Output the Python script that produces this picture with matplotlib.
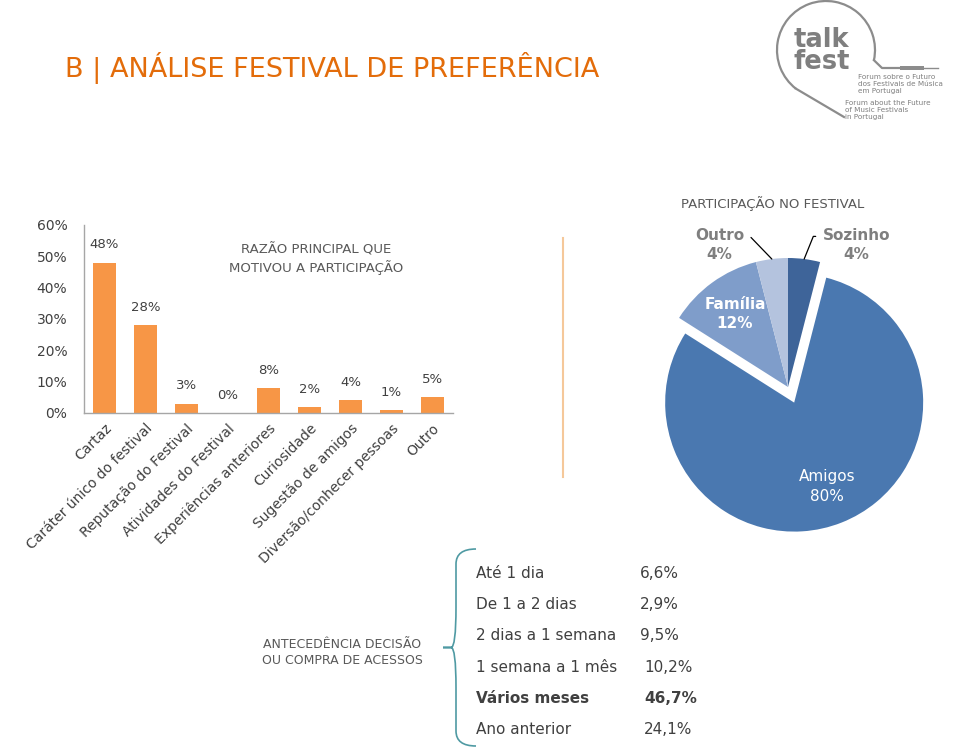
import numpy as np
import matplotlib
matplotlib.use('Agg')
import matplotlib.pyplot as plt
from matplotlib.patches import Arc, PathPatch, Rectangle
from matplotlib.path import Path

# data
reasons = ['Cartaz', 'Caráter único do festival', 'Reputação do Festival',
           'Atividades do Festival', 'Experiências anteriores', 'Curiosidade',
           'Sugestão de amigos', 'Diversão/conhecer pessoas', 'Outro']
reason_pct = [48, 28, 3, 0, 8, 2, 4, 1, 5]

company = ['Sozinho', 'Amigos', 'Família', 'Outro']
company_pct = [4, 80, 12, 4]

timing = ['Até 1 dia', 'De 1 a 2 dias', '2 dias a 1 semana', '1 semana a 1 mês',
          'Vários meses', 'Ano anterior']
timing_pct = [6.6, 2.9, 9.5, 10.2, 46.7, 24.1]

W, H = 960, 753
ORANGE = '#f79646'
TITLE = '#e36c0a'
GREY = '#595959'
DARK = '#404040'
LOGO = '#8c8c8c'

plt.rcParams['font.family'] = ['DejaVu Sans']
fig = plt.figure(figsize=(W / 100, H / 100), dpi=100)


def fx(x):
    return x / W


def fy(y):
    return 1 - y / H


# title
fig.text(fx(65), fy(68), 'B | ANÁLISE FESTIVAL DE PREFERÊNCIA', color=TITLE,
         fontsize=19.5, va='center', ha='left')

# bar chart
ax = fig.add_axes([fx(84), fy(413), 369 / W, 188 / H])
x = np.arange(len(reasons))
bars = ax.bar(x, np.array(reason_pct) / 100, width=0.56, color=ORANGE)
ax.bar_label(bars, labels=[f'{v}%' for v in reason_pct], padding=8,
             fontsize=9.5, color=DARK)
ax.set_xlim(-0.5, len(reasons) - 0.5)
ax.set_ylim(0, 0.6)
ax.set_yticks(np.arange(0, 0.61, 0.1))
ax.set_yticklabels([f'{int(round(t * 100))}%' for t in np.arange(0, 0.61, 0.1)])
ax.tick_params(axis='y', length=0, pad=12, labelsize=10, labelcolor=DARK)
ax.set_xticks(x)
ax.set_xticklabels(reasons, rotation=45, ha='right', rotation_mode='anchor',
                   fontsize=10, color=DARK)
ax.tick_params(axis='x', length=0, pad=6)
for s in ['top', 'right']:
    ax.spines[s].set_visible(False)
for s in ['left', 'bottom']:
    ax.spines[s].set_color('#a6a6a6')
    ax.spines[s].set_linewidth(1)
ax.text(0.63, 0.82, 'RAZÃO PRINCIPAL QUE\nMOTIVOU A PARTICIPAÇÃO', transform=ax.transAxes,
        ha='center', va='center', fontsize=9.5, color=GREY, linespacing=1.3)

# separator line
fig.add_artist(plt.Line2D([fx(563), fx(563)], [fy(238), fy(477)],
                          color='#f5c89a', lw=1.5))

# pie chart
pax = fig.add_axes([fx(788 - 129), fy(387 + 129), 258 / W, 258 / H])
pie_colors = ['#3e6499', '#4a78b0', '#7f9dca', '#b4c3de']
explode = [0, 0.13, 0, 0]
wedges, _ = pax.pie(company_pct, colors=pie_colors, startangle=90, counterclock=False,
                    explode=explode, radius=1,
                    wedgeprops=dict(linewidth=0))
pax.set_xlim(-1, 1)
pax.set_ylim(-1, 1)
pax.set_aspect('equal')
pax.axis('off')

for w, name, v, ex in zip(wedges, company, company_pct, explode):
    mid = np.deg2rad((w.theta1 + w.theta2) / 2)
    cx, cy = ex * np.cos(mid), ex * np.sin(mid)
    if v >= 10:
        r = 0.7
        pax.text(cx + r * np.cos(mid), cy + r * np.sin(mid), f'{name}\n{v}%',
                 ha='center', va='center', color='white', fontsize=11,
                 fontweight='bold' if name != 'Amigos' else 'normal', linespacing=1.4)
    else:
        side = np.sign(np.cos(mid))
        tx = 0.53 * side
        ty = 1.1
        pax.annotate(f'{name}\n{v}%', xy=(np.cos(mid), np.sin(mid)), xytext=(tx, ty),
                     ha='center', va='center', color='#7f7f7f', fontsize=11,
                     fontweight='bold', linespacing=1.4, annotation_clip=False,
                     arrowprops=dict(arrowstyle='-', color='black', lw=0.9,
                                     relpos=(1 if side < 0 else 0, 0.75),
                                     shrinkA=3, shrinkB=0,
                                     connectionstyle='angle,angleA=0,angleB=%d,rad=0'
                                     % (134 if side < 0 else 68)))

pax.text(-0.12, 1.42, 'PARTICIPAÇÃO NO FESTIVAL', ha='center', va='center',
         fontsize=9.5, color=GREY)

# antecedence table
fig.text(fx(342), fy(653), 'ANTECEDÊNCIA DECISÃO\nOU COMPRA DE ACESSOS', ha='center',
         va='center', fontsize=9, color=GREY, linespacing=1.3)

# brace
bx, top, bot, tip = 476, 549, 746, 443
mid_y = (top + bot) / 2
verts = [(fx(bx), fy(top)), (fx(bx - 20), fy(top)), (fx(bx - 20), fy(top + 15)),
         (fx(bx - 20), fy(mid_y - 40)),
         (fx(bx - 20), fy(mid_y)), (fx(tip + 8), fy(mid_y)), (fx(tip), fy(mid_y)),
         (fx(tip + 8), fy(mid_y)), (fx(bx - 20), fy(mid_y)), (fx(bx - 20), fy(mid_y + 40)),
         (fx(bx - 20), fy(bot - 15)), (fx(bx - 20), fy(bot)), (fx(bx), fy(bot))]
codes = [Path.MOVETO, Path.CURVE3, Path.CURVE3, Path.LINETO, Path.CURVE3, Path.CURVE3,
         Path.LINETO, Path.LINETO, Path.CURVE3, Path.CURVE3, Path.LINETO,
         Path.CURVE3, Path.CURVE3]
fig.add_artist(PathPatch(Path(verts, codes), transform=fig.transFigure, fill=False,
                         edgecolor='#4f9aa3', lw=1.2))

row_y0, row_dy = 573, 31.4
best = int(np.argmax(timing_pct))
for i, (lab, v) in enumerate(zip(timing, timing_pct)):
    y = row_y0 + i * row_dy
    weight = 'bold' if i == best else 'normal'
    fig.text(fx(476), fy(y), lab, ha='left', va='center', fontsize=11, color=DARK,
             fontweight=weight)
    xo = 640 if v < 10 else 644
    fig.text(fx(xo), fy(y), f'{v:.1f}%'.replace('.', ','), ha='left', va='center',
             fontsize=11, color=DARK, fontweight=weight)

# logo (local pixel coords, y up)
lax = fig.add_axes([fx(760), fy(125), 200 / W, 125 / H])
lax.set_xlim(0, 200)
lax.set_ylim(0, 125)
lax.axis('off')
c0, r0 = (66, 125 - 50), 49
a1, a2 = -12, 232
lax.add_patch(Arc(c0, 2 * r0, 2 * r0, theta1=a1, theta2=a2, color=LOGO, lw=1.6))
p1 = (c0[0] + r0 * np.cos(np.deg2rad(a1)), c0[1] + r0 * np.sin(np.deg2rad(a1)))
p2 = (c0[0] + r0 * np.cos(np.deg2rad(a2)), c0[1] + r0 * np.sin(np.deg2rad(a2)))
lax.plot([p2[0], 84], [p2[1], 125 - 117], color=LOGO, lw=1.6)
lax.plot([p1[0], 122, 140], [p1[1], 125 - 68, 125 - 68], color=LOGO, lw=1.6)
lax.add_patch(Rectangle((140, 125 - 70), 24, 4, color=LOGO, lw=0))
lax.plot([164, 178], [125 - 68, 125 - 68], color=LOGO, lw=1)
lax.text(34, 125 - 51, 'talk\nfest', fontsize=18.5, fontweight='bold', color='#7f7f7f',
         ha='left', va='center', linespacing=0.8)
small = ['Forum sobre o Futuro', 'dos Festivais de Música', 'em Portugal',
         'Forum about the Future', 'of Music Festivals', 'in Portugal']
for i, s in enumerate(small):
    sx = 98 if i < 3 else 85
    sy = [77, 84, 91, 103, 110, 117][i]
    lax.text(sx, 125 - sy, s, fontsize=5.2, color='#7f7f7f', ha='left', va='center')

fig.savefig('out.png', dpi=100, facecolor='white')
